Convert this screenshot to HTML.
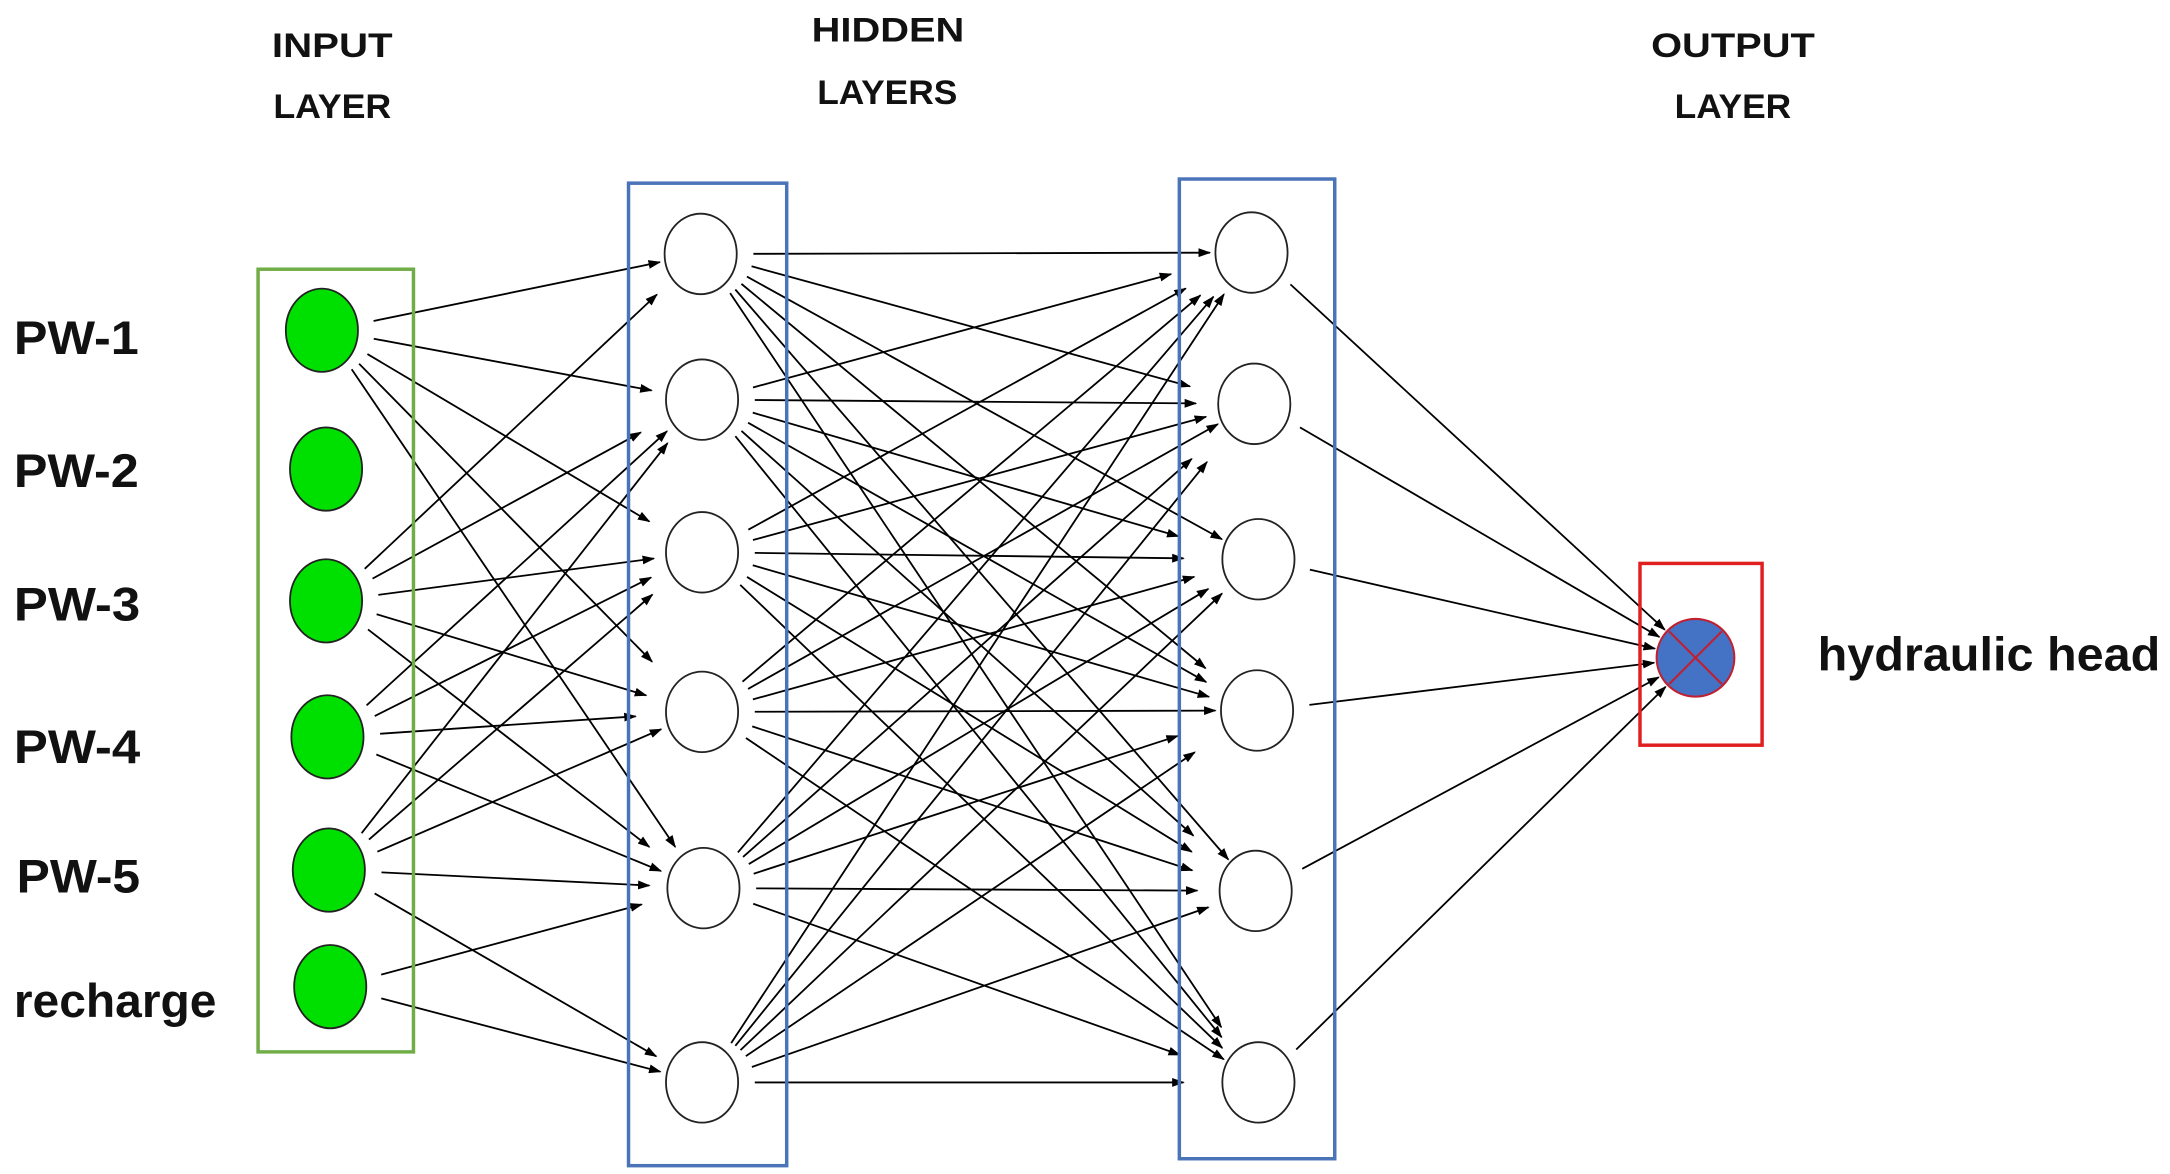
<!DOCTYPE html>
<html><head><meta charset="utf-8"><style>
html,body{margin:0;padding:0;background:#fff;}
svg{display:block;}
text{font-family:"Liberation Sans",sans-serif;font-weight:bold;fill:#111;}
</style></head><body>
<svg id="s" width="2170" height="1174" viewBox="0 0 1564 846" preserveAspectRatio="none" xmlns="http://www.w3.org/2000/svg">
<defs><marker id="a" viewBox="0 0 10 10" refX="9" refY="5" markerWidth="7" markerHeight="7" orient="auto"><path d="M0,1.5 L10,5 L0,8.5z" fill="#000"/></marker></defs>
<text x="196" y="41" font-size="25" textLength="87" lengthAdjust="spacingAndGlyphs">INPUT</text>
<text x="197" y="85" font-size="25" textLength="85" lengthAdjust="spacingAndGlyphs">LAYER</text>
<text x="585" y="30" font-size="25" textLength="110" lengthAdjust="spacingAndGlyphs">HIDDEN</text>
<text x="589" y="75" font-size="25" textLength="101" lengthAdjust="spacingAndGlyphs">LAYERS</text>
<text x="1190" y="41" font-size="25" textLength="118" lengthAdjust="spacingAndGlyphs">OUTPUT</text>
<text x="1207" y="85" font-size="25" textLength="84" lengthAdjust="spacingAndGlyphs">LAYER</text>
<text x="10" y="255" font-size="34" textLength="90" lengthAdjust="spacingAndGlyphs">PW-1</text>
<text x="10" y="351" font-size="34" textLength="90" lengthAdjust="spacingAndGlyphs">PW-2</text>
<text x="10" y="447" font-size="34" textLength="91" lengthAdjust="spacingAndGlyphs">PW-3</text>
<text x="10" y="550" font-size="34" textLength="91" lengthAdjust="spacingAndGlyphs">PW-4</text>
<text x="12" y="643" font-size="34" textLength="89" lengthAdjust="spacingAndGlyphs">PW-5</text>
<text x="10" y="733" font-size="34" textLength="146" lengthAdjust="spacingAndGlyphs">recharge</text>
<text x="1310" y="483" font-size="34" textLength="247" lengthAdjust="spacingAndGlyphs">hydraulic head</text>
<g id="L" stroke="#000" stroke-width="1.3" fill="none"></g>
<rect x="186" y="194" width="112" height="564" fill="none" stroke="#70ad47" stroke-width="2.5"/>
<rect x="453" y="132" width="114" height="708" fill="none" stroke="#4a73b8" stroke-width="2.5"/>
<rect x="850" y="129" width="112" height="706" fill="none" stroke="#4a73b8" stroke-width="2.5"/>
<rect x="1182" y="406" width="88" height="131" fill="none" stroke="#e02020" stroke-width="2.5"/>
<g id="N" stroke="#222" stroke-width="1.3"></g>
<circle cx="1222" cy="474" r="28" fill="#4472c4" stroke="#c02030" stroke-width="1.5"/>
<line x1="1203" y1="455" x2="1241" y2="493" stroke="#c02030" stroke-width="1.5"/>
<line x1="1241" y1="455" x2="1203" y2="493" stroke="#c02030" stroke-width="1.5"/>
</svg>
<script>
var NS="http://www.w3.org/2000/svg";
var I=[[232,238],[235,338],[235,433],[236,531],[237,627],[238,711]];
var H=[[505,183],[506,288],[506,398],[506,513],[507,640],[506,780]];
var G=[[902,182],[904,291],[907,403],[906,512],[905,642],[907,780]];
var N=document.getElementById('N'),L=document.getElementById('L');
function el(t,a,p){var e=document.createElementNS(NS,t);for(var k in a)e.setAttribute(k,a[k]);p.appendChild(e);}
I.forEach(function(c){el('ellipse',{cx:c[0],cy:c[1],rx:26,ry:30,fill:'#00e000'},N);});
H.concat(G).forEach(function(c){el('ellipse',{cx:c[0],cy:c[1],rx:26,ry:29,fill:'#fff'},N);});
function ln(a,b,sh){var dx=b[0]-a[0],dy=b[1]-a[1],d=Math.sqrt(dx*dx+dy*dy);
 var x1=a[0]+dx/d*38,y1=a[1]+dy/d*34,x2=b[0]-dx/d*(30+sh),y2=b[1]-dy/d*(30+sh);
 el('line',{x1:x1,y1:y1,x2:x2,y2:y2,'marker-end':'url(#a)'},L);}
var E1=[[0,0],[0,1],[0,2],[0,3],[0,4],[2,0],[2,1],[2,2],[2,3],[2,4],[3,1],[3,2],[3,3],[3,4],[4,1],[4,2],[4,3],[4,4],[5,4],[5,5],[4,5]];
E1.forEach(function(e,i){ln(I[e[0]],H[e[1]],(i*7)%22);});
for(var i=0;i<6;i++)for(var j=0;j<6;j++){ln(H[i],G[j],((i*5+j*3)%6)*6);}
G.forEach(function(g){ln(g,[1222,474],0);});
</script>
</body></html>
